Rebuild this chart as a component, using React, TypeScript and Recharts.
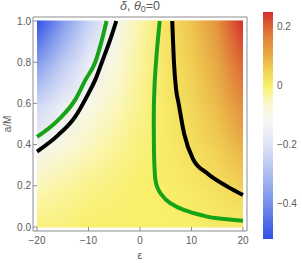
import React from 'react';
import { ComposedChart, XAxis, YAxis, Line, ReferenceArea } from 'recharts';

// ---- heat-map field (delta) ----
const epsCols = [-20, -15, -10, -5, 0, 5, 10, 15, 20];
const aRows = [0, 0.2, 0.4, 0.6, 0.8, 1.0];
const deltaA00 = [-0.01, -0.01, 0, 0, 0, 0, 0, 0.01, 0.01];
const deltaA02 = [-0.05, -0.035, -0.02, -0.01, 0, 0.005, 0.015, 0.03, 0.05];
const deltaA04 = [-0.14, -0.09, -0.055, -0.03, -0.01, 0.008, 0.03, 0.055, 0.1];
const deltaA06 = [-0.24, -0.165, -0.105, -0.055, -0.02, 0.012, 0.042, 0.085, 0.15];
const deltaA08 = [-0.38, -0.27, -0.17, -0.09, -0.03, 0.016, 0.056, 0.11, 0.2];
const deltaA10 = [-0.52, -0.38, -0.25, -0.13, -0.04, 0.02, 0.07, 0.14, 0.25];
const deltaRows = [deltaA00, deltaA02, deltaA04, deltaA06, deltaA08, deltaA10];

// ---- contour curves ----
const greenLeft = [
  { e: -20, a: 0.437 }, { e: -15.85, a: 0.52 }, { e: -12.6, a: 0.617 },
  { e: -10.6, a: 0.714 }, { e: -8.7, a: 0.8 }, { e: -7.4, a: 0.908 }, { e: -6.5, a: 1.0 },
];
const blackLeft = [
  { e: -20, a: 0.366 }, { e: -15.85, a: 0.447 }, { e: -12.6, a: 0.535 },
  { e: -10, a: 0.649 }, { e: -8.7, a: 0.714 }, { e: -7.4, a: 0.8 }, { e: -5.8, a: 0.908 }, { e: -4.6, a: 1.0 },
];
const greenRight = [
  { e: 3.84, a: 1.0 }, { e: 3.3, a: 0.86 }, { e: 2.85, a: 0.7 }, { e: 2.67, a: 0.52 },
  { e: 2.7, a: 0.4 }, { e: 2.8, a: 0.3 }, { e: 3.0, a: 0.228 }, { e: 4.0, a: 0.163 },
  { e: 5.9, a: 0.115 }, { e: 8.5, a: 0.083 }, { e: 11.8, a: 0.058 }, { e: 15, a: 0.042 }, { e: 20, a: 0.03 },
];
const blackRight = [
  { e: 6.26, a: 1.0 }, { e: 6.57, a: 0.81 }, { e: 7.0, a: 0.67 }, { e: 7.5, a: 0.6 },
  { e: 8.6, a: 0.45 }, { e: 10.3, a: 0.33 }, { e: 13.1, a: 0.26 }, { e: 17, a: 0.196 }, { e: 20, a: 0.155 },
];

// ---- ticks ----
const xTicks = [-20, -10, 0, 10, 20];
const xMinorTicks = [-18, -16, -14, -12, -8, -6, -4, -2, 2, 4, 6, 8, 12, 14, 16, 18];
const yTicks = [0, 0.2, 0.4, 0.6, 0.8, 1.0];
const yMinorTicks = [0.05, 0.1, 0.15, 0.25, 0.3, 0.35, 0.45, 0.5, 0.55, 0.65, 0.7, 0.75, 0.85, 0.9, 0.95];
const barTicks = [0.2, 0, -0.2, -0.4];

// ---- colour map ----
const CMAP_V = [-0.52, -0.4, -0.3, -0.2, -0.12, -0.06, 0, 0.05, 0.1, 0.15, 0.2, 0.25];
const CMAP_C = ['#3050e6', '#7590ea', '#adbdf1', '#dfe5f8', '#f7f7f4', '#fbf8cc', '#f9f06c', '#f1d255', '#e8ad45', '#e28d3c', '#dc6434', '#d42e2c'];
const BAR_MIN = -0.52;
const BAR_MAX = 0.25;

function hexToRgb(h: string) {
  return [parseInt(h.slice(1, 3), 16), parseInt(h.slice(3, 5), 16), parseInt(h.slice(5, 7), 16)];
}
function cmap(v: number): string {
  const t = Math.max(CMAP_V[0], Math.min(CMAP_V[CMAP_V.length - 1], v));
  let i = 0;
  while (i < CMAP_V.length - 2 && t > CMAP_V[i + 1]) i++;
  const f = (t - CMAP_V[i]) / (CMAP_V[i + 1] - CMAP_V[i]);
  const c0 = hexToRgb(CMAP_C[i]);
  const c1 = hexToRgb(CMAP_C[i + 1]);
  const c = c0.map((x, j) => Math.round(x + (c1[j] - x) * f));
  return `rgb(${c[0]},${c[1]},${c[2]})`;
}

const X_DOMAIN: [number, number] = [-20.78, 20.78];
const Y_DOMAIN: [number, number] = [-0.0194, 1.0194];
const FRAME = '#8c8c8c';
const TXT = '#5a5a5a';
const FONT = '"Liberation Sans", Arial, sans-serif';
const THIN = 0.001;

const fmtX = (v: number) => (v < 0 ? '\u2212' + Math.abs(v) : String(v));
const fmtY = (v: number) => v.toFixed(1);
const fmtBar = (v: number) => (v < 0 ? '\u2212' + Math.abs(v).toFixed(1) : v === 0 ? '0' : v.toFixed(1));

function bandShape(k: number) {
  return (p: any) => (
    <g>
      <rect x={p.x} y={p.y - 0.5} width={p.width} height={p.height + 1} fill={`url(#row${k})`} />
      <rect x={p.x} y={p.y - 0.5} width={p.width} height={p.height + 1} fill={`url(#row${k + 1})`} mask="url(#fadeUp)" />
    </g>
  );
}

export default function App() {
  const barTop = 12;
  const barH = 227;
  const barStops = CMAP_V.map((v, i) => `${CMAP_C[i]} ${((v - BAR_MIN) / (BAR_MAX - BAR_MIN)) * 100}%`).join(', ');
  return (
    <div style={{ position: 'absolute', left: 0, top: 0, width: 302, height: 263, fontFamily: FONT, background: '#fff' }}>
      <div style={{ position: 'absolute', left: 80, width: 120, top: -1, textAlign: 'center', fontSize: 12.5, color: TXT, lineHeight: '14px' }}>
        <i>δ</i>, <i>θ</i><sub style={{ fontSize: 9, verticalAlign: '-2px' }}>0</sub>=0
      </div>
      <ComposedChart width={302} height={263} margin={{ top: 17, right: 55, bottom: 32, left: 33 }} style={{ position: 'absolute', left: 0, top: 0 }}>
        <defs>
          {deltaRows.map((row, k) => (
            <linearGradient key={k} id={`row${k}`} x1="0" y1="0" x2="1" y2="0">
              {row.map((v, j) => (
                <stop key={j} offset={(epsCols[j] - epsCols[0]) / (epsCols[epsCols.length - 1] - epsCols[0])} stopColor={cmap(v)} />
              ))}
            </linearGradient>
          ))}
          <linearGradient id="fadeGrad" x1="0" y1="1" x2="0" y2="0">
            <stop offset="0" stopColor="#000" />
            <stop offset="1" stopColor="#fff" />
          </linearGradient>
          <mask id="fadeUp" maskContentUnits="objectBoundingBox">
            <rect x="0" y="0" width="1" height="1" fill="url(#fadeGrad)" />
          </mask>
        </defs>

        <XAxis xAxisId="minB" type="number" domain={X_DOMAIN} allowDataOverflow ticks={xMinorTicks} tick={false} tickSize={-2} tickLine={{ stroke: FRAME }} axisLine={false} height={THIN} orientation="bottom" />
        <XAxis xAxisId="minT" type="number" domain={X_DOMAIN} allowDataOverflow ticks={xMinorTicks} tick={false} tickSize={-2} tickLine={{ stroke: FRAME }} axisLine={false} height={THIN} orientation="top" />
        <XAxis xAxisId="majT" type="number" domain={X_DOMAIN} allowDataOverflow ticks={xTicks} tick={false} tickSize={-4} tickLine={{ stroke: FRAME }} axisLine={{ stroke: FRAME }} height={THIN} orientation="top" />
        <XAxis
          xAxisId={0} dataKey="e" type="number" domain={X_DOMAIN} allowDataOverflow ticks={xTicks}
          tickFormatter={fmtX} tickSize={-4} tickMargin={10} height={THIN} orientation="bottom"
          tickLine={{ stroke: FRAME }} axisLine={{ stroke: FRAME }}
          tick={{ fill: TXT, fontSize: 10, fontFamily: FONT }}
          label={{ value: 'ε', position: 'bottom', offset: 20, fill: TXT, fontSize: 11, fontFamily: FONT }}
        />

        <YAxis yAxisId="minL" type="number" domain={Y_DOMAIN} allowDataOverflow ticks={yMinorTicks} tick={false} tickSize={-2} tickLine={{ stroke: FRAME }} axisLine={false} width={THIN} orientation="left" />
        <YAxis yAxisId="minR" type="number" domain={Y_DOMAIN} allowDataOverflow ticks={yMinorTicks} tick={false} tickSize={-2} tickLine={{ stroke: FRAME }} axisLine={false} width={THIN} orientation="right" />
        <YAxis yAxisId="majR" type="number" domain={Y_DOMAIN} allowDataOverflow ticks={yTicks} tick={false} tickSize={-4} tickLine={{ stroke: FRAME }} axisLine={{ stroke: FRAME }} width={THIN} orientation="right" />
        <YAxis
          yAxisId={0} dataKey="a" type="number" domain={Y_DOMAIN} allowDataOverflow ticks={yTicks}
          tickFormatter={fmtY} tickSize={-4} tickMargin={6} width={THIN} orientation="left"
          tickLine={{ stroke: FRAME }} axisLine={{ stroke: FRAME }}
          tick={{ fill: TXT, fontSize: 10, fontFamily: FONT }}
          label={{ value: 'a/M', angle: -90, position: 'left', offset: 26, fill: TXT, fontSize: 10, fontFamily: FONT, style: { textAnchor: 'middle' } }}
        />

        {aRows.slice(0, -1).map((a0, k) => (
          <ReferenceArea key={k} x1={epsCols[0]} x2={epsCols[epsCols.length - 1]} y1={a0} y2={aRows[k + 1]} shape={bandShape(k)} />
        ))}

        <Line data={greenLeft} dataKey="a" type="monotone" stroke="#16a316" strokeWidth={4} dot={false} isAnimationActive={false} />
        <Line data={blackLeft} dataKey="a" type="monotone" stroke="#000" strokeWidth={4} dot={false} isAnimationActive={false} />
        <Line data={greenRight} dataKey="a" type="monotoneY" stroke="#16a316" strokeWidth={4} dot={false} isAnimationActive={false} />
        <Line data={blackRight} dataKey="a" type="monotone" stroke="#000" strokeWidth={4} dot={false} isAnimationActive={false} />
      </ComposedChart>

      <div style={{ position: 'absolute', left: 263, top: barTop, width: 10, height: barH, background: `linear-gradient(to top, ${barStops})` }} />
      {barTicks.map((v) => (
        <div key={v} style={{ position: 'absolute', left: 277, top: barTop + ((BAR_MAX - v) / (BAR_MAX - BAR_MIN)) * barH - 7, fontSize: 10, color: TXT, lineHeight: '14px' }}>
          {fmtBar(v)}
        </div>
      ))}
    </div>
  );
}
